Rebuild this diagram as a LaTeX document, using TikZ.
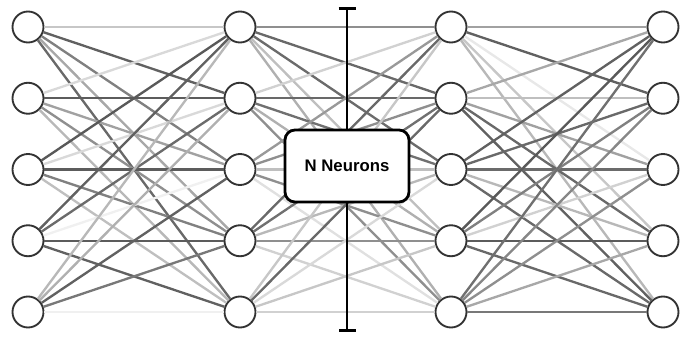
\documentclass[tikz,border=0pt]{standalone}
\usepackage{fontspec}
\setmainfont{Liberation Sans}
\usetikzlibrary{arrows.meta}

\begin{document}
\begin{tikzpicture}[x=0.03cm, y=-0.03cm,
	neuron/.style={circle, draw=black!80, line width=1.6pt, fill=white, minimum size=0.93cm, inner sep=0pt},
	synapse/.style={line width=2pt, black!#1},
	layerbox/.style={draw=black, line width=2.4pt, rounded corners=0.3cm, fill=white,
		minimum width=3.72cm, minimum height=2.16cm, font=\bfseries\fontsize{14.3}{17}\selectfont}]
	\useasboundingbox (0,0) rectangle (696,339);

	% neurons, four layers of five
	\foreach \L/\xx in {a/28, b/240, c/451, d/663}
		\foreach \r in {1,...,5}
			\node[neuron] (\L\r) at (\xx,{27+71.25*(\r-1)}) {};

	% weights, one grey level per connection
	\foreach \src/\dst/\i/\row in {
		a/b/1/{22,62,50,34,59}, a/b/2/{15,64,37,44,28}, a/b/3/{65,15,64,50,25},
		a/b/4/{62,58,6,64,62},  a/b/5/{28,31,62,53,6},
		b/c/1/{44,59,58,25,31}, b/c/2/{18,59,56,31,44}, b/c/3/{40,44,25,44,12},
		b/c/4/{59,56,28,44,18}, b/c/5/{22,59,15,22,18},
		c/d/1/{37,62,9,22,28},  c/d/2/{34,25,37,59,62}, c/d/3/{62,59,58,28,59},
		c/d/4/{65,50,18,64,59}, c/d/5/{56,47,44,34,53}}
		\foreach \w [count=\j] in \row
			\draw[synapse=\w] (\src\i) -- (\dst\j);

	% hidden width marker
	\coordinate (top) at (347,7);
	\coordinate (bot) at (347,332);
	\draw[line width=2.2pt, {Bar[width=0.51cm]}-{Bar[width=0.51cm]}] (top) -- (bot);
	\node[layerbox] (hidden) at (347,166) {N Neurons};
\end{tikzpicture}
\end{document}
